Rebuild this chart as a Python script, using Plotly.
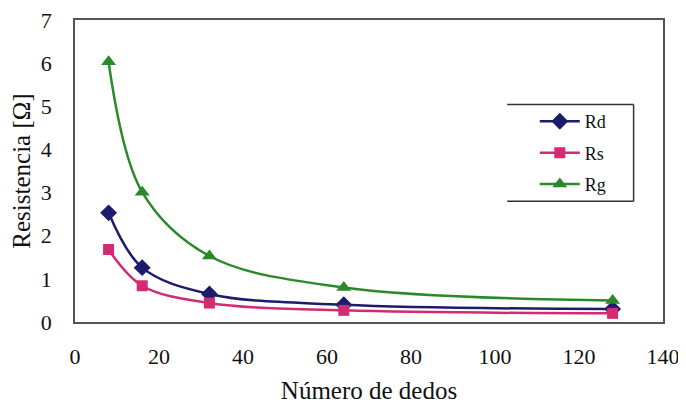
import plotly.graph_objects as go

dedos = [8, 16, 32, 64, 128]
Rd = [2.53, 1.26, 0.65, 0.40, 0.30]
Rs = [1.68, 0.84, 0.44, 0.27, 0.20]
Rg = [6.03, 3.01, 1.53, 0.80, 0.50]

x_ticks = [0, 20, 40, 60, 80, 100, 120, 140]
y_ticks = [0, 1, 2, 3, 4, 5, 6, 7]

FONT = "Liberation Serif"

fig = go.Figure()
series = [
    ("Rd", Rd, "#1c1c6b", "diamond", 13),
    ("Rs", Rs, "#d42a72", "square", 11),
    ("Rg", Rg, "#2a8a2a", "triangle-up", 13),
]
for name, vals, color, sym, size in series:
    fig.add_trace(go.Scatter(
        x=dedos, y=vals, name=name, mode="lines+markers",
        line=dict(color=color, width=2.5, shape="spline", smoothing=1.0),
        marker=dict(symbol=sym, size=size, color=color),
        legendgroup=name,
    ))

fig.update_layout(
    width=670, height=396,
    margin=dict(l=67, r=15, t=12, b=82),
    paper_bgcolor="white", plot_bgcolor="white",
    font=dict(family=FONT, color="#222222", size=20),
    showlegend=True,
    legend=dict(
        x=0.782, y=0.725, xanchor="left", yanchor="top",
        bgcolor="rgba(0,0,0,0)", borderwidth=0,
        font=dict(family=FONT, size=18, color="#111111"),
        tracegroupgap=5, itemwidth=40,
    ),
    xaxis=dict(
        range=[0, 140], tickvals=x_ticks, ticktext=[str(v) for v in x_ticks],
        showgrid=False, zeroline=False, showline=True, mirror=True,
        linecolor="#555555", linewidth=1.5, ticks="", automargin=False,
        ticklabelstandoff=14, ticklabeloverflow="allow",
        tickfont=dict(family=FONT, size=22, color="#111111"),
        title=dict(text="Número de dedos", font=dict(family=FONT, size=25, color="#111111"), standoff=28),
    ),
    yaxis=dict(
        range=[0, 7], tickvals=y_ticks, ticktext=[str(v) for v in y_ticks],
        showgrid=False, zeroline=False, showline=True, mirror=True,
        linecolor="#555555", linewidth=1.5, ticks="", automargin=False,
        ticklabelstandoff=17, ticklabeloverflow="allow",
        tickfont=dict(family=FONT, size=22, color="#111111"),
        title=dict(text="Resistencia [Ω]", font=dict(family=FONT, size=25, color="#111111"), standoff=9),
    ),
)

# legend frame (top, right, bottom sides)
lx0, lx1, ly0, ly1 = 0.735, 0.95, 0.40, 0.72
for x0, y0, x1, y1 in [(lx0, ly1, lx1, ly1), (lx1, ly1, lx1, ly0), (lx0, ly0, lx1, ly0)]:
    fig.add_shape(type="line", xref="paper", yref="paper", x0=x0, y0=y0, x1=x1, y1=y1,
                  line=dict(color="#333333", width=1.5))

fig.write_html("out.html")
